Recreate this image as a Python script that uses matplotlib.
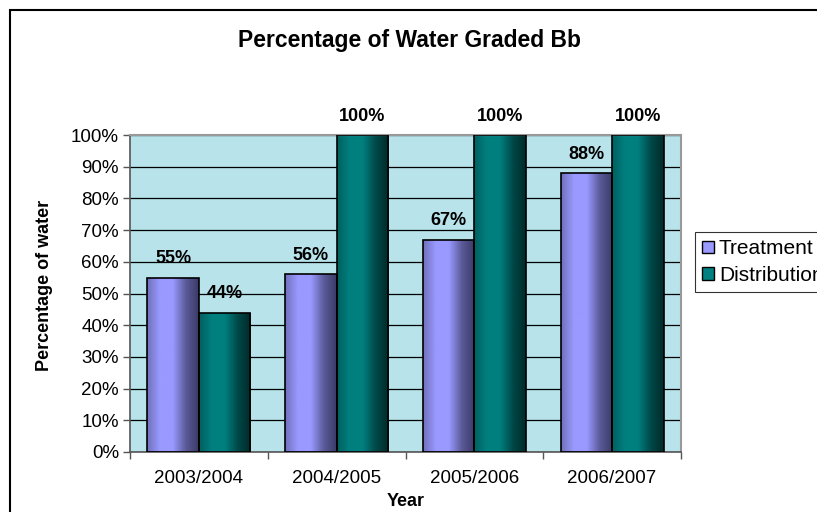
"""
Percentage of Water Graded Bb - grouped bar chart with shaded bars
"""
import numpy as np
import matplotlib
matplotlib.use("Agg")
import matplotlib.pyplot as plt
from matplotlib.colors import LinearSegmentedColormap
from matplotlib.patches import Patch, Rectangle

years = ["2003/2004", "2004/2005", "2005/2006", "2006/2007"]
treatment = [55, 56, 67, 88]
distribution = [44, 100, 100, 100]
series_names = ["Treatment", "Distribution"]

plt.rcParams["font.family"] = ["Liberation Sans", "DejaVu Sans"]

W, H = 817, 512
fig = plt.figure(figsize=(W / 100, H / 100), dpi=100)
fig.patch.set_facecolor("white")

# plot area in pixels
left, right, top, bottom = 130, 681, 135, 452
ax = fig.add_axes([left / W, 1 - bottom / H, (right - left) / W, (bottom - top) / H])
ax.set_facecolor("#b8e3eb")

# cylinder-like shading for each series
cmaps = [
    LinearSegmentedColormap.from_list("treat", ["#7070bb", "#9999ff", "#9999ff", "#5a5a99", "#3a3a66"]),
    LinearSegmentedColormap.from_list("dist", ["#005f5f", "#008080", "#007f7f", "#004848", "#002a2a"]),
]
legend_colors = ["#9999ff", "#008080"]

x = np.arange(len(years))
bw = 0.374
grad = np.linspace(0, 1, 256).reshape(1, -1)

for i, (vals, cmap) in enumerate(zip([treatment, distribution], cmaps)):
    offs = -bw / 2 if i == 0 else bw / 2
    bars = ax.bar(x + offs, vals, width=bw, facecolor="none", edgecolor="black",
                  linewidth=1.2, zorder=3)
    for b, v in zip(bars, vals):
        x0 = b.get_x()
        im = ax.imshow(grad, cmap=cmap, aspect="auto",
                       extent=[x0, x0 + bw, 0, v], zorder=2)
        im.set_clip_path(b)
        ax.text(x0 + bw / 2, v + 3.3, f"{v}%", ha="center", va="bottom",
                fontsize=13, fontweight="bold")

ax.set_xlim(-0.5, len(years) - 0.5)
ax.set_ylim(0, 100)
ax.set_yticks(np.arange(0, 101, 10))
ax.set_yticklabels([f"{t}%" for t in range(0, 101, 10)], fontsize=13.5)
ax.set_xticks(x)
ax.set_xticklabels(years, fontsize=13.5)
ax.set_xticks(np.arange(-0.5, len(years)), minor=True)
ax.tick_params(axis="x", which="major", length=0, pad=13)
ax.tick_params(axis="x", which="minor", length=5, direction="out", width=1, color="#555555")
ax.tick_params(axis="y", length=5, direction="out", width=1, color="#555555", pad=3)

ax.yaxis.grid(True, color="black", linewidth=0.9, zorder=1)
ax.set_axisbelow(True)

for s in ["left", "bottom"]:
    ax.spines[s].set_color("#555555")
    ax.spines[s].set_linewidth(1.2)
for s in ["top", "right"]:
    ax.spines[s].set_color("#999999")
    ax.spines[s].set_linewidth(1.5)

fig.text(45 / W, 1 - 285 / H, "Percentage of water", rotation=90, ha="center",
         va="center", fontsize=13, fontweight="bold")
fig.text(406 / W, 1 - 501 / H, "Year", ha="center", va="center",
         fontsize=13, fontweight="bold")
fig.text(410 / W, 1 - 40 / H, "Percentage of Water Graded Bb", ha="center", va="center",
         fontsize=16.5, fontweight="bold")

handles = [Patch(facecolor=c, edgecolor="black", linewidth=1) for c in legend_colors]
leg = fig.legend(handles, series_names, loc="center left",
                 bbox_to_anchor=(695 / W, 1 - 262 / H), fontsize=15,
                 frameon=True, fancybox=False, edgecolor="black",
                 handlelength=0.55, handleheight=0.55, handletextpad=0.25,
                 borderpad=0.35, labelspacing=0.35, borderaxespad=0)
leg.get_frame().set_linewidth(0.8)

# outer chart border (runs off the right and bottom edges)
fig.patches.append(Rectangle((9.5 / W, -0.1), 1.2, 1 - 9.5 / H + 0.1,
                             transform=fig.transFigure, fill=False,
                             edgecolor="black", linewidth=1.5))

fig.savefig("out.png", dpi=100)
